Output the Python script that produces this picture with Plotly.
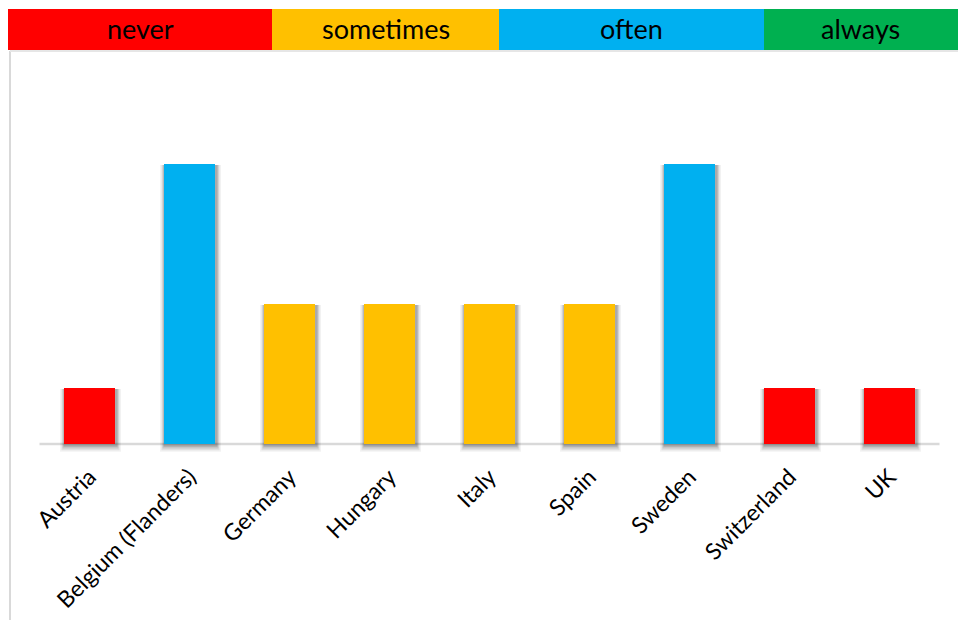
import plotly.graph_objects as go

# Survey answers per country and the bar height used for each answer level
countries = ["Austria", "Belgium (Flanders)", "Germany", "Hungary", "Italy",
             "Spain", "Sweden", "Switzerland", "UK"]
answers = ["never", "often", "sometimes", "sometimes", "sometimes",
           "sometimes", "often", "never", "never"]
levels = ["never", "sometimes", "often", "always"]
level_values = {"never": 1.0, "sometimes": 2.5, "often": 5.0, "always": 6.0}
level_colors = {"never": "#FF0000", "sometimes": "#FFC000",
                "often": "#00B0F0", "always": "#00B050"}

values = [level_values[a] for a in answers]
colors = [level_colors[a] for a in answers]

W, H = 958, 623
FONT = "Lato"

fig = go.Figure()

# soft drop shadow under each bar, built from a few translucent layers
for w, drop, alpha in [(0.61, 0.14, 0.05), (0.58, 0.11, 0.08),
                       (0.56, 0.08, 0.11), (0.54, 0.05, 0.14)]:
    fig.add_trace(go.Bar(
        x=countries,
        y=[v - 0.02 + drop for v in values],
        base=[-drop] * len(values),
        width=w,
        offset=-w / 2 + 0.01,
        marker=dict(color=f"rgba(0,0,0,{alpha})", line=dict(width=0)),
        hoverinfo="skip",
        showlegend=False,
    ))

fig.add_trace(go.Bar(
    x=countries,
    y=values,
    width=0.51,
    marker=dict(color=colors, line=dict(width=0)),
    showlegend=False,
))

# colour key across the top
bounds = [8, 272, 499, 764, 958]
shapes = []
annotations = []
for i, lvl in enumerate(levels):
    x0, x1 = bounds[i] / W, bounds[i + 1] / W
    shapes.append(dict(type="rect", xref="paper", yref="paper",
                       x0=x0, x1=x1, y0=1 - 50 / H, y1=1 - 9 / H,
                       fillcolor=level_colors[lvl], line=dict(width=0), layer="above"))
    annotations.append(dict(xref="paper", yref="paper", x=(x0 + x1) / 2,
                            y=1 - 28 / H, text=lvl, showarrow=False,
                            font=dict(family=FONT, size=27, color="#000000"),
                            xanchor="center", yanchor="middle"))

# frame lines at the left and under the key
shapes.append(dict(type="line", xref="paper", yref="paper",
                   x0=10 / W, x1=10 / W, y0=1 - 51 / H, y1=1 - 620 / H,
                   line=dict(color="#D9D9D9", width=2)))
shapes.append(dict(type="line", xref="paper", yref="paper",
                   x0=10 / W, x1=1, y0=1 - 51 / H, y1=1 - 51 / H,
                   line=dict(color="#E6E6E6", width=2)))

fig.update_layout(
    width=W, height=H,
    margin=dict(l=0, r=0, t=0, b=0),
    paper_bgcolor="white",
    plot_bgcolor="white",
    barmode="overlay",
    shapes=shapes,
    annotations=annotations,
    xaxis=dict(
        domain=[39.5 / W, 939.5 / W],
        tickangle=-45,
        tickfont=dict(family=FONT, size=23, color="#000000"),
        showgrid=False,
        showline=False,
        ticks="",
        automargin=False,
        ticklabelstandoff=0,
    ),
    yaxis=dict(
        domain=[1 - 458 / H, 1 - 108 / H],
        range=[-0.25, 6],
        showgrid=False,
        showticklabels=False,
        zeroline=False,
        showline=False,
        ticks="",
        automargin=False,
    ),
)

# baseline across the category axis
fig.add_shape(type="line", xref="x domain", yref="y",
              x0=0, x1=1, y0=0, y1=0,
              line=dict(color="#D9D9D9", width=2.5), layer="below")

fig.write_html("out.html")
